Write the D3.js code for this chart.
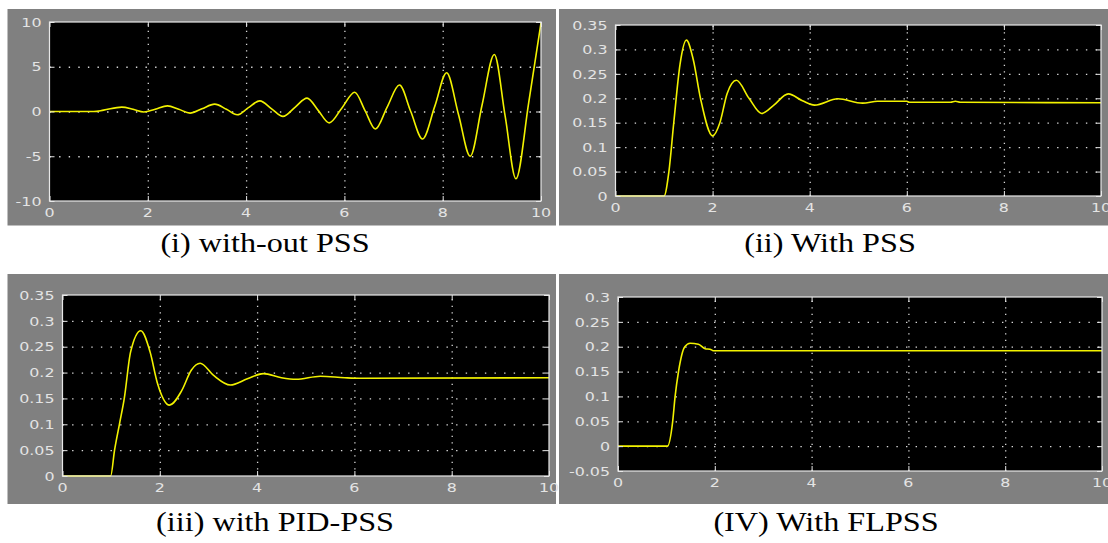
<!DOCTYPE html>
<html>
<head>
<meta charset="utf-8">
<script src="https://cdn.jsdelivr.net/npm/d3@7"></script>
<style>
  html, body { margin: 0; padding: 0; background: #fff; }
  svg { display: block; }
</style>
</head>
<body>
<svg id="chart" width="1108" height="543"></svg>
<script>
// Tick values
const xTicks = [0, 2, 4, 6, 8, 10];
const yTicksWithout = [-10, -5, 0, 5, 10];
const yTicksPss = [0, 0.05, 0.1, 0.15, 0.2, 0.25, 0.3, 0.35];
const yTicksFlpss = [-0.05, 0, 0.05, 0.1, 0.15, 0.2, 0.25, 0.3];

const captions = ["(i) with-out PSS", "(ii) With PSS", "(iii) with PID-PSS", "(IV) With FLPSS"];

// (i) with-out PSS
const tWithout = [0, 0.9, 1.1, 1.47, 1.7, 1.92, 2.15, 2.4, 2.63, 2.86, 3.1, 3.36, 3.6, 3.82, 4.04, 4.28,
  4.52, 4.75, 5.0, 5.24, 5.47, 5.69, 5.95, 6.21, 6.42, 6.63, 6.87, 7.12, 7.35, 7.59, 7.84, 8.08,
  8.32, 8.56, 8.8, 9.05, 9.27, 9.49, 9.75, 10];
const vWithout = [0, 0, 0.15, 0.49, 0.25, -0.05, 0.25, 0.63, 0.25, -0.18, 0.3, 0.82, 0.25, -0.37, 0.4, 1.19,
  0.3, -0.55, 0.5, 1.5, 0.1, -1.27, 0.4, 2.15, 0.1, -1.96, 0.5, 2.96, 0, -3.07, 0.6, 4.33,
  -0.3, -5.0, 0.7, 6.37, -0.5, -7.52, 1.0, 9.9];

// (ii) With PSS
const tPss = [0, 1.0, 1.1, 1.2, 1.33, 1.46, 1.6, 1.75, 2.0, 2.15, 2.3, 2.49, 2.75, 3.01, 3.25, 3.56,
  3.85, 4.1, 4.58, 5.09, 5.4, 6.0, 6.05, 6.9, 7.0, 7.1, 10];
const vPss = [0, 0, 0.05, 0.15, 0.27, 0.319, 0.28, 0.2, 0.123, 0.15, 0.21, 0.237, 0.2, 0.169, 0.185, 0.209,
  0.195, 0.186, 0.199, 0.19, 0.194, 0.194, 0.192, 0.192, 0.194, 0.192, 0.191];

// (iii) with PID-PSS
const tPid = [0, 0.99, 1.07, 1.17, 1.27, 1.4, 1.61, 1.8, 1.95, 2.2, 2.45, 2.65, 2.83, 3.1, 3.45, 3.8,
  4.13, 4.5, 4.8, 5.3, 5.8, 6.1, 10];
const vPid = [0, 0, 0.05, 0.1, 0.15, 0.24, 0.281, 0.24, 0.18, 0.137, 0.165, 0.205, 0.218, 0.195, 0.176, 0.188,
  0.198, 0.19, 0.187, 0.193, 0.19, 0.189, 0.19];

// (IV) With FLPSS
const tFl = [0, 1.02, 1.13, 1.18, 1.25, 1.38, 1.49, 1.66, 1.8, 1.9, 1.97, 10];
const vFl = [0, 0, 0.05, 0.1, 0.15, 0.2, 0.207, 0.205, 0.196, 0.195, 0.192, 0.192];

// Layout of the four scope panels
const panels = [
  {box: [7.5, 9, 548.5, 216.5], plot: [49.5, 22, 541, 201], t: tWithout, v: vWithout, yTicks: yTicksWithout, cap: captions[0], capX: 265, capY: 252},
  {box: [559, 9, 549, 216.5], plot: [615.5, 25, 1101, 196], t: tPss, v: vPss, yTicks: yTicksPss, cap: captions[1], capX: 830, capY: 252},
  {box: [7.5, 274, 548.5, 230], plot: [62.5, 295, 549, 476], t: tPid, v: vPid, yTicks: yTicksPss, cap: captions[2], capX: 275, capY: 531},
  {box: [559, 274, 549, 230], plot: [618, 297, 1102, 471], t: tFl, v: vFl, yTicks: yTicksFlpss, cap: captions[3], capX: 826, capY: 531}
];

const svg = d3.select("#chart");
const labelScale = 1.22;
const fmt = d => String(+d.toFixed(2));

panels.forEach(p => {
  let [bx, by, bw, bh] = p.box;
  let [x0, y0, x1, y1] = p.plot;
  let w = x1 - x0, h = y1 - y0;

  // Grey scope background
  svg.append("rect")
     .attr("x", bx).attr("y", by)
     .attr("width", bw).attr("height", bh)
     .style("fill", "#808080");

  let g = svg.append("g").attr("transform", `translate(${x0},${y0})`);

  let x = d3.scaleLinear().domain([0, 10]).range([0, w]);
  let y = d3.scaleLinear().domain(d3.extent(p.yTicks)).range([h, 0]);

  g.append("rect")
   .attr("width", w).attr("height", h)
   .style("fill", "#000");

  // Dotted grid
  let inner = p.yTicks.slice(1, -1);
  g.append("g")
   .call(d3.axisLeft(y).tickValues(inner).tickSize(-w).tickFormat(""))
   .call(a => a.select(".domain").remove())
   .selectAll("line")
   .style("stroke", "#d8d8d8").style("stroke-width", 1.3)
   .style("stroke-dasharray", "1.4,8.2");

  g.append("g")
   .attr("transform", `translate(0,${h})`)
   .call(d3.axisBottom(x).tickValues(xTicks.slice(1, -1)).tickSize(-h).tickFormat(""))
   .call(a => a.select(".domain").remove())
   .selectAll("line")
   .style("stroke", "#d8d8d8").style("stroke-width", 1.3)
   .style("stroke-dasharray", "1.3,5.2");

  // Signal
  let line = d3.line()
               .x((d, i) => x(p.t[i]))
               .y(d => y(d))
               .curve(d3.curveMonotoneX);

  g.append("path")
   .datum(p.v)
   .attr("d", line)
   .style("fill", "none")
   .style("stroke", "#f2f200")
   .style("stroke-width", 1.6);

  // Inward ticks on all four sides
  let tickLen = 5;
  let axes = [
    {ax: d3.axisLeft(y).tickValues(p.yTicks), tr: null},
    {ax: d3.axisRight(y).tickValues(p.yTicks), tr: `translate(${w},0)`},
    {ax: d3.axisBottom(x).tickValues(xTicks), tr: `translate(0,${h})`},
    {ax: d3.axisTop(x).tickValues(xTicks), tr: null}
  ];
  axes.forEach(a => {
    let ag = g.append("g")
              .call(a.ax.tickSize(-tickLen).tickFormat(""));
    if (a.tr) ag.attr("transform", a.tr);
    ag.select(".domain").remove();
    ag.selectAll("line").style("stroke", "#e8e8e8");
  });

  // Frame
  g.append("rect")
   .attr("width", w).attr("height", h)
   .style("fill", "none")
   .style("stroke", "#e8e8e8")
   .style("stroke-width", 1.2);

  // Tick labels
  let yl = g.append("g")
            .call(d3.axisLeft(y).tickValues(p.yTicks).tickSize(0).tickFormat(fmt));
  yl.select(".domain").remove();
  yl.selectAll("text")
    .attr("x", -8 / labelScale)
    .attr("transform", `scale(${labelScale},1)`)
    .style("font-family", "'DejaVu Sans', sans-serif")
    .style("font-size", "13px")
    .style("fill", "#e4e4e4");

  let xl = g.append("g")
            .call(d3.axisBottom(x).tickValues(xTicks).tickSize(0).tickPadding(6.5).tickFormat(fmt));
  xl.select(".domain").remove();
  xl.selectAll("text")
    .style("font-family", "'DejaVu Sans', sans-serif")
    .style("font-size", "13px")
    .style("fill", "#e4e4e4");
  // keep labels centred on their ticks after the horizontal stretch
  xl.selectAll(".tick").each(function(d) {
    d3.select(this).attr("transform", `translate(${x(d) / labelScale},0)`);
  });
  xl.attr("transform", `translate(0,${h}) scale(${labelScale},1)`);

  // Caption under the scope
  svg.append("text")
     .attr("transform", `translate(${p.capX},${p.capY}) scale(1.15,1)`)
     .attr("text-anchor", "middle")
     .style("font-family", "'Liberation Serif', 'Times New Roman', serif")
     .style("font-size", "28px")
     .style("fill", "#000")
     .text(p.cap);
});
</script>
</body>
</html>
